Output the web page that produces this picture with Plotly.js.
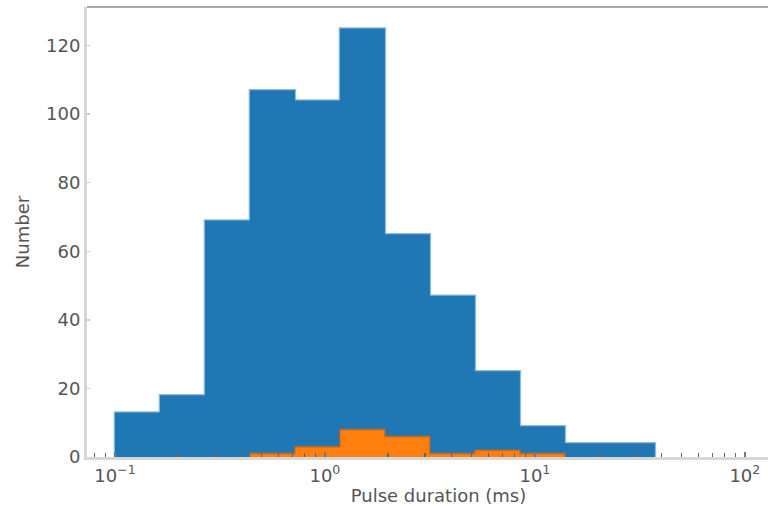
<!DOCTYPE html>
<html>
<head>
<meta charset="utf-8">
<script src="https://cdn.plot.ly/plotly-3.0.1.min.js"></script>
<style>
  html, body { margin: 0; padding: 0; overflow: hidden; background: #fff; }
  #chart { width: 790px; height: 506px; }
</style>
</head>
<body>
<div id="chart"></div>
<script>
// Logarithmic bin edges of the pulse-duration histogram (ms)
const binEdges = [0.1, 0.1638, 0.2683, 0.4394, 0.7197, 1.179, 1.931, 3.162, 5.179, 8.483, 13.89, 22.76, 37.28];
// Pulse counts per bin: all pulses, and the highlighted subset
const allCounts = [13, 18, 69, 107, 104, 125, 65, 47, 25, 9, 4, 4];
const subsetCounts = [0, 0, 0, 1, 3, 8, 6, 1, 2, 1, 0, 0];
// Axis ticks
const xTickVals = [0.1, 1, 10, 100];
const xTickText = ['10<sup>\u22121</sup>', '10<sup>0</sup>', '10<sup>1</sup>', '10<sup>2</sup>'];
const yTickVals = [0, 20, 40, 60, 80, 100, 120];

// Turn edges + counts into a closed "stepfilled" outline, skipping empty bins at both ends
function stepOutline(edges, counts) {
  let lo = 0, hi = counts.length - 1;
  while (lo < hi && counts[lo] === 0) lo++;
  while (hi > lo && counts[hi] === 0) hi--;
  const x = [edges[lo]], y = [0];
  for (let i = lo; i <= hi; i++) { x.push(edges[i]); y.push(counts[i]); }
  x.push(edges[hi + 1]); y.push(counts[hi]);
  x.push(edges[hi + 1]); y.push(0);
  return { x, y };
}

const all = stepOutline(binEdges, allCounts);
const sub = stepOutline(binEdges, subsetCounts);

const traces = [
  {
    x: all.x, y: all.y, type: 'scatter', mode: 'lines',
    line: { shape: 'hv', color: 'rgba(31,119,180,0.5)', width: 2.5 },
    fill: 'tozeroy', fillcolor: '#1f77b4', hoverinfo: 'skip'
  },
  {
    x: sub.x, y: sub.y, type: 'scatter', mode: 'lines',
    line: { shape: 'hv', color: 'rgba(200,100,20,0.6)', width: 2 },
    fill: 'tozeroy', fillcolor: '#ff7f0e', hoverinfo: 'skip'
  }
];

const textColor = '#555';
const layout = {
  width: 790, height: 506,
  margin: { l: 87, r: 0, t: 7, b: 49 },
  paper_bgcolor: '#fff', plot_bgcolor: '#fff',
  showlegend: false,
  font: { family: 'DejaVu Sans, sans-serif', size: 18, color: textColor },
  xaxis: {
    type: 'log',
    range: [-1.133, 2.215],
    tickvals: xTickVals, ticktext: xTickText,
    ticks: 'inside', ticklen: 5, tickwidth: 1.5, tickcolor: '#777',
    minor: { ticks: 'inside', ticklen: 4, tickwidth: 1.5, tickcolor: '#666', dtick: 'D1', showgrid: false },
    showgrid: false, zeroline: false,
    showline: true, linecolor: '#d6d6d6', linewidth: 3,
    tickfont: { size: 18, color: textColor },
    title: { text: 'Pulse duration (ms)', font: { size: 18, color: textColor }, standoff: 6 }
  },
  yaxis: {
    range: [0, 131.25],
    tickvals: yTickVals,
    ticks: 'inside', ticklen: 3, tickwidth: 1.5, tickcolor: '#ccc',
    showgrid: false, zeroline: false,
    showline: true, linecolor: '#d6d6d6', linewidth: 3,
    tickfont: { size: 18, color: textColor },
    title: { text: 'Number', font: { size: 18, color: textColor }, standoff: 12 }
  },
  shapes: [
    { type: 'line', xref: 'paper', yref: 'paper', x0: 0, x1: 1, y0: 1, y1: 1,
      line: { color: '#aaa', width: 2 } }
  ]
};

Plotly.newPlot('chart', traces, layout, { displayModeBar: false, staticPlot: true });
</script>
</body>
</html>
